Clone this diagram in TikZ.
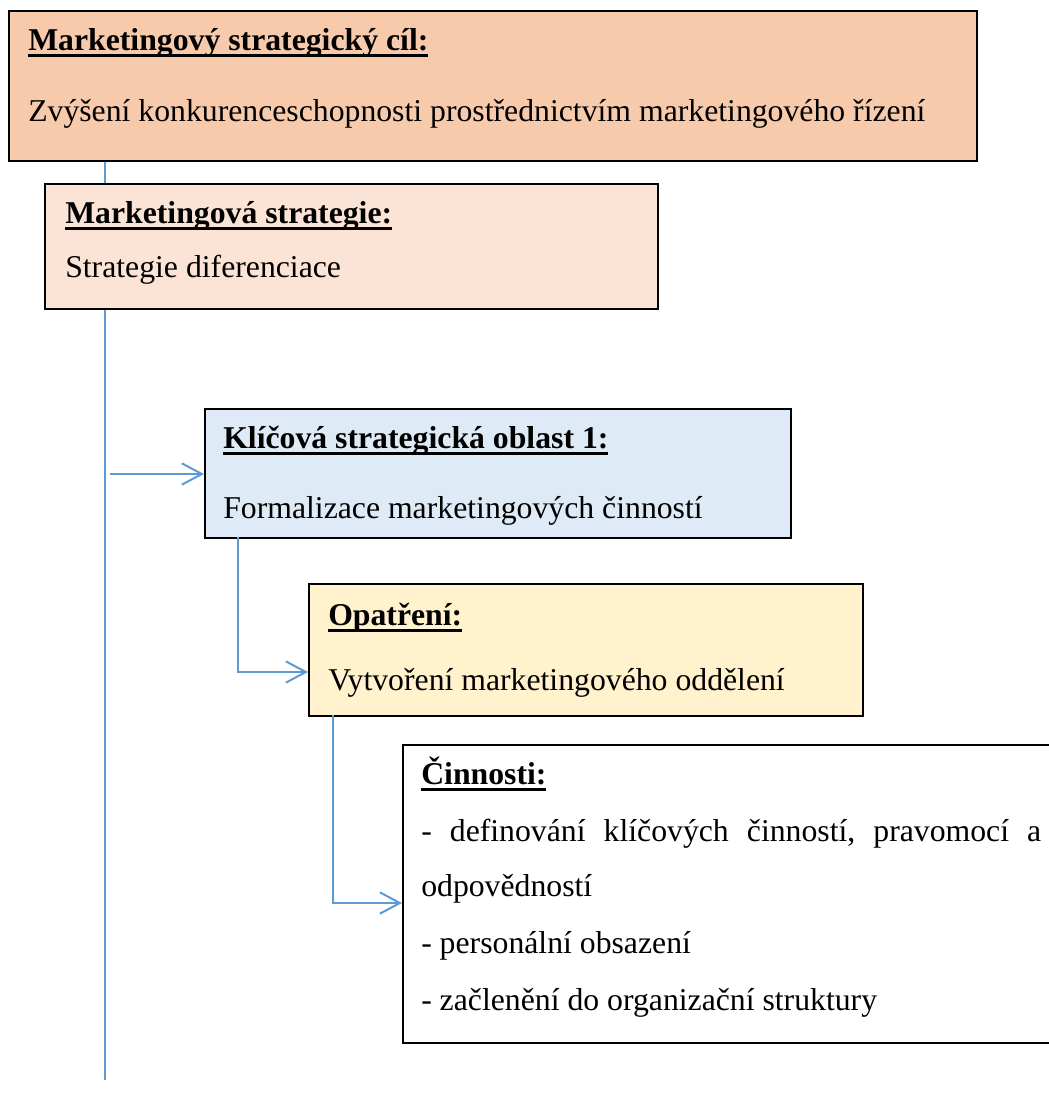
\documentclass[tikz,border=0pt]{standalone}
\usepackage{fontspec}
\setmainfont{Liberation Serif}
\usetikzlibrary{calc, arrows.meta}
\definecolor{cilfill}{HTML}{F7CAAC}
\definecolor{stratfill}{HTML}{FBE4D5}
\definecolor{oblastfill}{HTML}{DEEAF6}
\definecolor{opatfill}{HTML}{FFF2CC}
\definecolor{linkblue}{HTML}{5B9BD5}
% bold heading with a thick underline
\newcommand{\headline}[1]{\setbox0\hbox{\bfseries #1}\rlap{\rule[-5.3pt]{\wd0}{2.2pt}}\box0}
\tikzset{
  box/.style={draw=black, line width=1.5pt, anchor=north west, inner sep=0pt},
  txt/.style={anchor=base west, inner sep=0pt},
  link/.style={draw=linkblue, line width=1.2pt},
  tip/.style={-{Straight Barb[length=15pt, width=16pt, line width=1.5pt]}}
}

\begin{document}
\begin{tikzpicture}[x=0.75pt, y=-0.75pt, font=\fontsize{23.8}{28}\selectfont]
  \useasboundingbox (0,0) rectangle (1049,1108);
  \clip (0,0) rectangle (1049,1108);

  % main vertical line
  \coordinate (top) at (105,160);
  \coordinate (bot) at (105,1080);
  \draw[link, line width=0.8pt] (top) -- (bot);

  \node[box, fill=cilfill, minimum width=726pt, minimum height=112.5pt] (b1) at (8,10) {};
  \node[txt] (h1) at ($(b1.north west)+(20,40)$) {\headline{Marketingový strategický cíl:}};
  \node[txt] (t1) at ($(b1.north west)+(20,111)$) {Zvýšení konkurenceschopnosti prostřednictvím marketingového řízení};

  \node[box, fill=stratfill, minimum width=459.75pt, minimum height=93.75pt] (b2) at (44,183) {};
  \node[txt] (h2) at ($(b2.north west)+(21,40)$) {\headline{Marketingová strategie:}};
  \node[txt] (t2) at ($(b2.north west)+(21,94)$) {Strategie diferenciace};

  \node[box, fill=oblastfill, minimum width=439.5pt, minimum height=96.75pt] (b3) at (204,408) {};
  \node[txt] (h3) at ($(b3.north west)+(19,40)$) {\headline{Klíčová strategická oblast 1:}};
  \node[txt] (t3) at ($(b3.north west)+(19,110)$) {Formalizace marketingových činností};

  \node[box, fill=opatfill, minimum width=415.5pt, minimum height=99pt] (b4) at (308,583) {};
  \node[txt] (h4) at ($(b4.north west)+(20,42)$) {\headline{Opatření:}};
  \node[txt] (t4) at ($(b4.north west)+(20,107)$) {Vytvoření marketingového oddělení};

  \node[box, fill=white, minimum width=501.75pt, minimum height=223.5pt] (b5) at (402,744) {};
  \node[txt] (h5) at ($(b5.north west)+(19,40)$) {\headline{Činnosti:}};
  \node[txt] (l1) at ($(b5.north west)+(19,97)$) {\hbox to 465pt{-\hfill definování\hfill klíčových\hfill činností,\hfill pravomocí\hfill a}};
  \node[txt] (l2) at ($(b5.north west)+(19,152)$) {odpovědností};
  \node[txt] (l3) at ($(b5.north west)+(19,209)$) {- personální obsazení};
  \node[txt] (l4) at ($(b5.north west)+(19,266)$) {- začlenění do organizační struktury};

  % connectors
  \coordinate (a1) at (110,474);
  \draw[link, tip, line width=1.5pt] (a1) -- (a1 -| b3.west);
  \coordinate (c2) at (238,537);
  \draw[link, tip] (c2) |- ($(b4.north west)+(0,89)$);
  \coordinate (c3) at (333,715);
  \draw[link, tip] (c3) |- ($(b5.north west)+(0,159)$);
\end{tikzpicture}
\end{document}
